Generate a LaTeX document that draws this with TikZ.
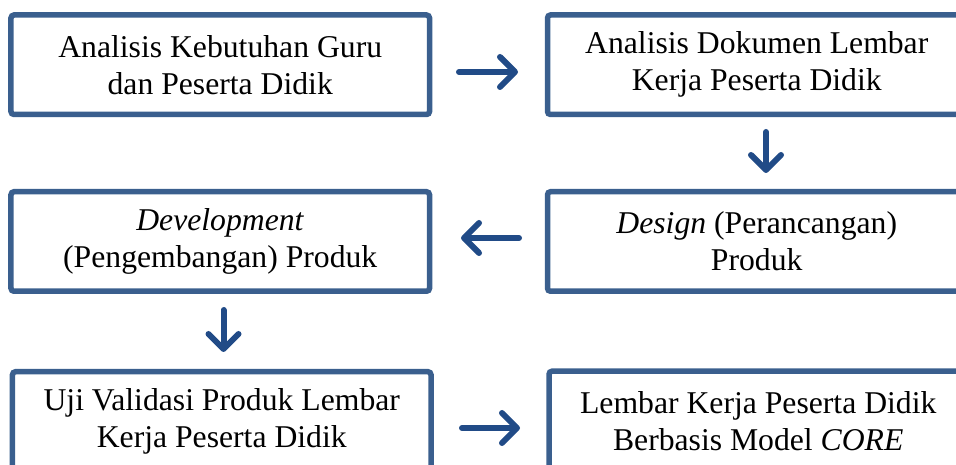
\documentclass[tikz,border=0pt]{standalone}
\usepackage{fontspec}
\setmainfont{Liberation Serif}
\usetikzlibrary{arrows.meta}
\definecolor{boxblue}{RGB}{58,95,142}
\definecolor{arrowblue}{RGB}{33,75,135}
\begin{document}
\begin{tikzpicture}[x=1bp,y=-1bp,
  stepbox/.style={draw=boxblue, line width=5.5bp, rounded corners=3bp,
    minimum width=418.5bp, minimum height=99.5bp, inner sep=0pt,
    align=center, font=\fontsize{31.8}{37}\selectfont},
  flow/.style={draw=arrowblue, line width=6bp, line cap=round,
    -{Straight Barb[length=15bp,width=30bp,round]}}]
\useasboundingbox (0,0) rectangle (956,465);

% process steps
\node[stepbox] (needs)   at (220.25,64.75)  {Analisis Kebutuhan Guru\\dan Peserta Didik};
\node[stepbox] (docs)    at (756.75,64.75)  {Analisis Dokumen Lembar\\Kerja Peserta Didik};
\node[stepbox] (design)  at (756.75,241.5)  {\textit{Design} (Perancangan)\\Produk};
\node[stepbox] (develop) at (220.25,241.5)  {\textit{Development}\\(Pengembangan) Produk};
\node[stepbox] (valid)   at (221.75,421.5)  {Uji Validasi Produk Lembar\\Kerja Peserta Didik};
\node[stepbox] (final)   at (758.25,421)    {Lembar Kerja Peserta Didik\\Berbasis Model \textit{CORE}};

% arrow end points in the gaps between the steps
\coordinate (a1s) at (459,72);   \coordinate (a1e) at (518,72);
\coordinate (a2s) at (766,132);  \coordinate (a2e) at (766,173);
\coordinate (a3s) at (519,238);  \coordinate (a3e) at (461,238);
\coordinate (a4s) at (223.5,310); \coordinate (a4e) at (223.5,352);
\coordinate (a5s) at (462,428);  \coordinate (a5e) at (520,428);

\draw[flow] (a1s) -- (a1e);
\draw[flow] (a2s) -- (a2e);
\draw[flow] (a3s) -- (a3e);
\draw[flow] (a4s) -- (a4e);
\draw[flow] (a5s) -- (a5e);
\end{tikzpicture}
\end{document}
